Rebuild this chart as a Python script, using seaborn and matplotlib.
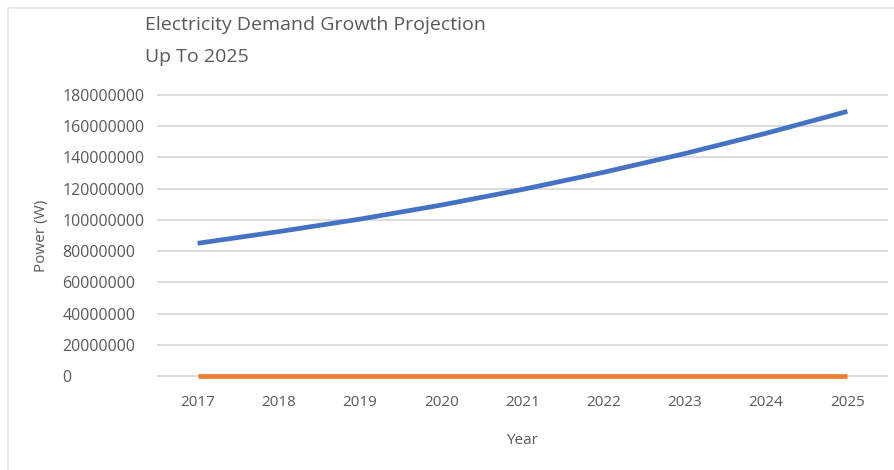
import matplotlib
matplotlib.use("Agg")
import matplotlib.pyplot as plt
import seaborn as sns
import pandas as pd
from matplotlib.lines import Line2D

years = ["2017", "2018", "2019", "2020", "2021", "2022", "2023", "2024", "2025"]
demand = [85000000, 92500000, 100500000, 109500000, 119500000, 130500000, 142500000, 155500000, 169500000]
baseline = [0, 0, 0, 0, 0, 0, 0, 0, 0]
yticks = [0, 20000000, 40000000, 60000000, 80000000, 100000000, 120000000, 140000000, 160000000, 180000000]

sns.set_theme(style="white")
plt.rcParams['font.family'] = ['Open Sans', 'DejaVu Sans']

df = pd.DataFrame({"Year": years * 2,
                   "Power": demand + baseline,
                   "Series": ["Demand"] * len(years) + ["Base"] * len(years)})
df["x"] = list(range(len(years))) * 2

fig = plt.figure(figsize=(8.95, 4.7), dpi=100)
ax = fig.add_axes([157 / 895, (470 - 376) / 470, (888 - 157) / 895, (376 - 95) / 470])

grey = "#595959"
ax.set_ylim(0, 180000000)
ax.set_xlim(-0.5, len(years) - 0.5)
ax.set_yticks(yticks)
for y in yticks:
    ax.axhline(y, color="#D9D9D9", lw=1.3, zorder=0, clip_on=False)

sns.lineplot(data=df, x="x", y="Power", hue="Series",
             palette={"Demand": "#4472C4", "Base": "#ED7D31"},
             lw=3.4, ax=ax, legend=False, zorder=3)
for ln in ax.get_lines():
    ln.set_solid_capstyle("butt")
    ln.set_clip_on(False)

ax.set_xticks(range(len(years)))
ax.set_xticklabels(years, color=grey, fontsize=11)
ax.set_yticklabels([str(v) for v in yticks], color=grey, fontsize=11.5, ha="left")
ax.tick_params(axis="y", pad=68, length=0)
ax.tick_params(axis="x", pad=14, length=0)
for s in ax.spines.values():
    s.set_visible(False)
ax.set_xlabel("")
ax.set_ylabel("")

fig.text(522 / 895, 1 - 440 / 470, "Year", color=grey, fontsize=11, ha="center", va="center")
fig.text(42 / 895, 1 - 236 / 470, "Power (W)", color=grey, fontsize=11, ha="center", va="center", rotation=90)
fig.text(145 / 895, 1 - 25 / 470, "Electricity Demand Growth Projection", color=grey, fontsize=14, ha="left", va="center")
fig.text(145 / 895, 1 - 57 / 470, "Up To 2025", color=grey, fontsize=14, ha="left", va="center")

# chart-area border (left and top edges)
fig.add_artist(Line2D([8 / 895, 8 / 895], [0, 1 - 8 / 470], transform=fig.transFigure, color="#E6E6E6", lw=1.2))
fig.add_artist(Line2D([8 / 895, 1], [1 - 8 / 470, 1 - 8 / 470], transform=fig.transFigure, color="#E6E6E6", lw=1.2))

fig.savefig("out.png", dpi=100)
